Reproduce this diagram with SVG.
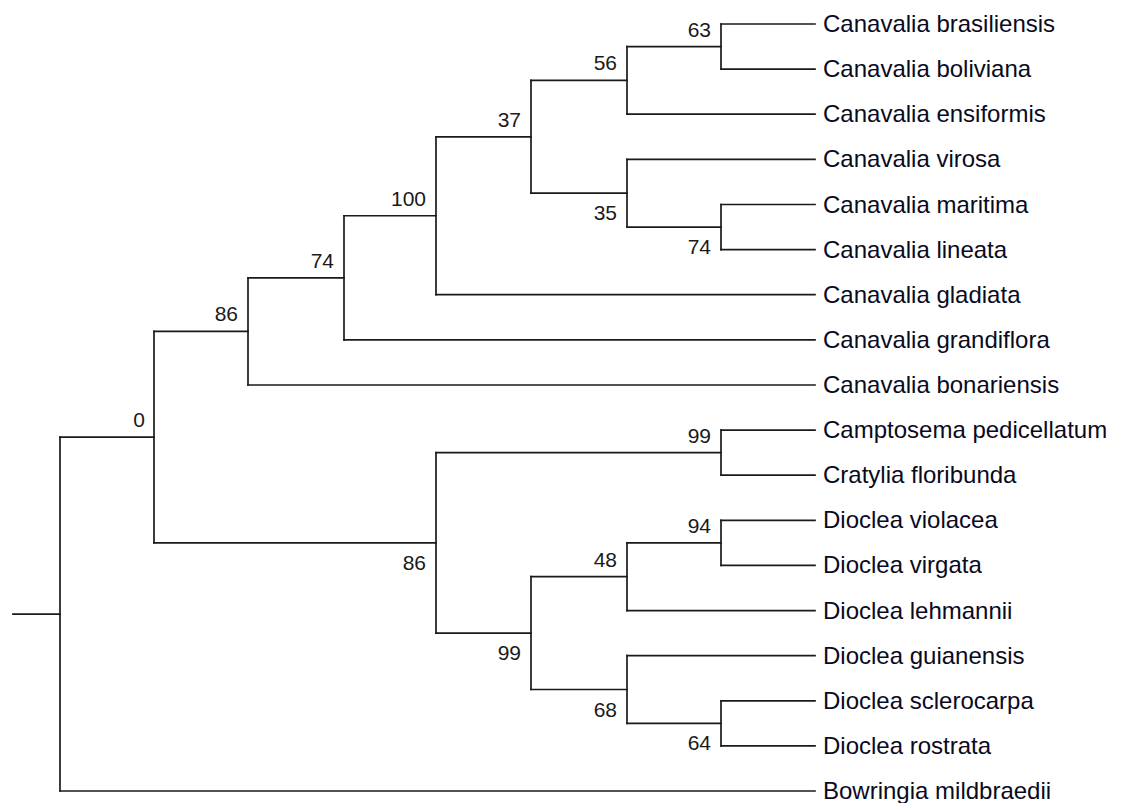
<svg xmlns="http://www.w3.org/2000/svg" width="1121" height="803" viewBox="0 0 1121 803">
<style>
.br{fill:none;stroke:#1a1a1a;stroke-width:1.7;stroke-linecap:square}
.leaf{font-family:"Liberation Sans",Arial,sans-serif;font-size:24px;fill:#0a0a1e}
.bs{font-family:"Liberation Sans",Arial,sans-serif;font-size:21px;fill:#1a1a1a;text-anchor:end}
</style>
<rect width="1121" height="803" fill="#fff"/>
<g id="connectors" class="br">
<path d="M13 614.1 H60"/>
<path d="M60 437.15 V791"/>
<path d="M60 437.15 H154"/>
<path d="M60 791 H815"/>
<path d="M154 331.4 V542.9"/>
<path d="M154 331.4 H248"/>
<path d="M154 542.9 H436"/>
<path d="M248 277.8 V385"/>
<path d="M248 277.8 H344"/>
<path d="M248 385 H815"/>
<path d="M344 215.75 V339.8"/>
<path d="M344 215.75 H436"/>
<path d="M344 339.8 H815"/>
<path d="M436 136.8 V294.7"/>
<path d="M436 136.8 H531"/>
<path d="M436 294.7 H815"/>
<path d="M531 80.4 V193.2"/>
<path d="M531 80.4 H627"/>
<path d="M531 193.2 H627"/>
<path d="M627 46.55 V114.2"/>
<path d="M627 46.55 H721"/>
<path d="M627 114.2 H815"/>
<path d="M721 24 V69.1"/>
<path d="M721 24 H815"/>
<path d="M721 69.1 H815"/>
<path d="M627 159.4 V227.05"/>
<path d="M627 159.4 H815"/>
<path d="M627 227.05 H721"/>
<path d="M721 204.5 V249.6"/>
<path d="M721 204.5 H815"/>
<path d="M721 249.6 H815"/>
<path d="M436 452.65 V633.1"/>
<path d="M436 452.65 H721"/>
<path d="M436 633.1 H531"/>
<path d="M721 430.1 V475.2"/>
<path d="M721 430.1 H815"/>
<path d="M721 475.2 H815"/>
<path d="M531 576.7 V689.5"/>
<path d="M531 576.7 H627"/>
<path d="M531 689.5 H627"/>
<path d="M627 542.85 V610.6"/>
<path d="M627 542.85 H721"/>
<path d="M627 610.6 H815"/>
<path d="M721 520.3 V565.4"/>
<path d="M721 520.3 H815"/>
<path d="M721 565.4 H815"/>
<path d="M627 655.7 V723.35"/>
<path d="M627 655.7 H815"/>
<path d="M627 723.35 H721"/>
<path d="M721 700.8 V745.9"/>
<path d="M721 700.8 H815"/>
<path d="M721 745.9 H815"/>
</g>
<g id="leaves">
<g id="leaf-c-brasiliensis"><text class="leaf" x="823" y="32">Canavalia brasiliensis</text></g>
<g id="leaf-c-boliviana"><text class="leaf" x="823" y="77.1">Canavalia boliviana</text></g>
<g id="leaf-c-ensiformis"><text class="leaf" x="823" y="122.2">Canavalia ensiformis</text></g>
<g id="leaf-c-virosa"><text class="leaf" x="823" y="167.4">Canavalia virosa</text></g>
<g id="leaf-c-maritima"><text class="leaf" x="823" y="212.5">Canavalia maritima</text></g>
<g id="leaf-c-lineata"><text class="leaf" x="823" y="257.6">Canavalia lineata</text></g>
<g id="leaf-c-gladiata"><text class="leaf" x="823" y="302.7">Canavalia gladiata</text></g>
<g id="leaf-c-grandiflora"><text class="leaf" x="823" y="347.8">Canavalia grandiflora</text></g>
<g id="leaf-c-bonariensis"><text class="leaf" x="823" y="393">Canavalia bonariensis</text></g>
<g id="leaf-camptosema"><text class="leaf" x="823" y="438.1">Camptosema pedicellatum</text></g>
<g id="leaf-cratylia"><text class="leaf" x="823" y="483.2">Cratylia floribunda</text></g>
<g id="leaf-d-violacea"><text class="leaf" x="823" y="528.3">Dioclea violacea</text></g>
<g id="leaf-d-virgata"><text class="leaf" x="823" y="573.4">Dioclea virgata</text></g>
<g id="leaf-d-lehmannii"><text class="leaf" x="823" y="618.6">Dioclea lehmannii</text></g>
<g id="leaf-d-guianensis"><text class="leaf" x="823" y="663.7">Dioclea guianensis</text></g>
<g id="leaf-d-sclerocarpa"><text class="leaf" x="823" y="708.8">Dioclea sclerocarpa</text></g>
<g id="leaf-d-rostrata"><text class="leaf" x="823" y="753.9">Dioclea rostrata</text></g>
<g id="leaf-bowringia"><text class="leaf" x="823" y="799">Bowringia mildbraedii</text></g>
</g>
<g id="support">
<g id="n63"><text class="bs" x="711" y="36.5">63</text></g>
<g id="n56"><text class="bs" x="617" y="70.4">56</text></g>
<g id="n37"><text class="bs" x="521" y="126.8">37</text></g>
<g id="n35"><text class="bs" x="617" y="220.2">35</text></g>
<g id="n74a"><text class="bs" x="711" y="254">74</text></g>
<g id="n100"><text class="bs" x="426" y="205.75">100</text></g>
<g id="n74b"><text class="bs" x="334" y="267.8">74</text></g>
<g id="n86a"><text class="bs" x="238" y="321.4">86</text></g>
<g id="n0"><text class="bs" x="145" y="427">0</text></g>
<g id="n99a"><text class="bs" x="711" y="442.6">99</text></g>
<g id="n86b"><text class="bs" x="426" y="570">86</text></g>
<g id="n94"><text class="bs" x="711" y="532.85">94</text></g>
<g id="n48"><text class="bs" x="617" y="566.7">48</text></g>
<g id="n99b"><text class="bs" x="521" y="660">99</text></g>
<g id="n68"><text class="bs" x="617" y="716.5">68</text></g>
<g id="n64"><text class="bs" x="711" y="750.35">64</text></g>
</g>
</svg>
